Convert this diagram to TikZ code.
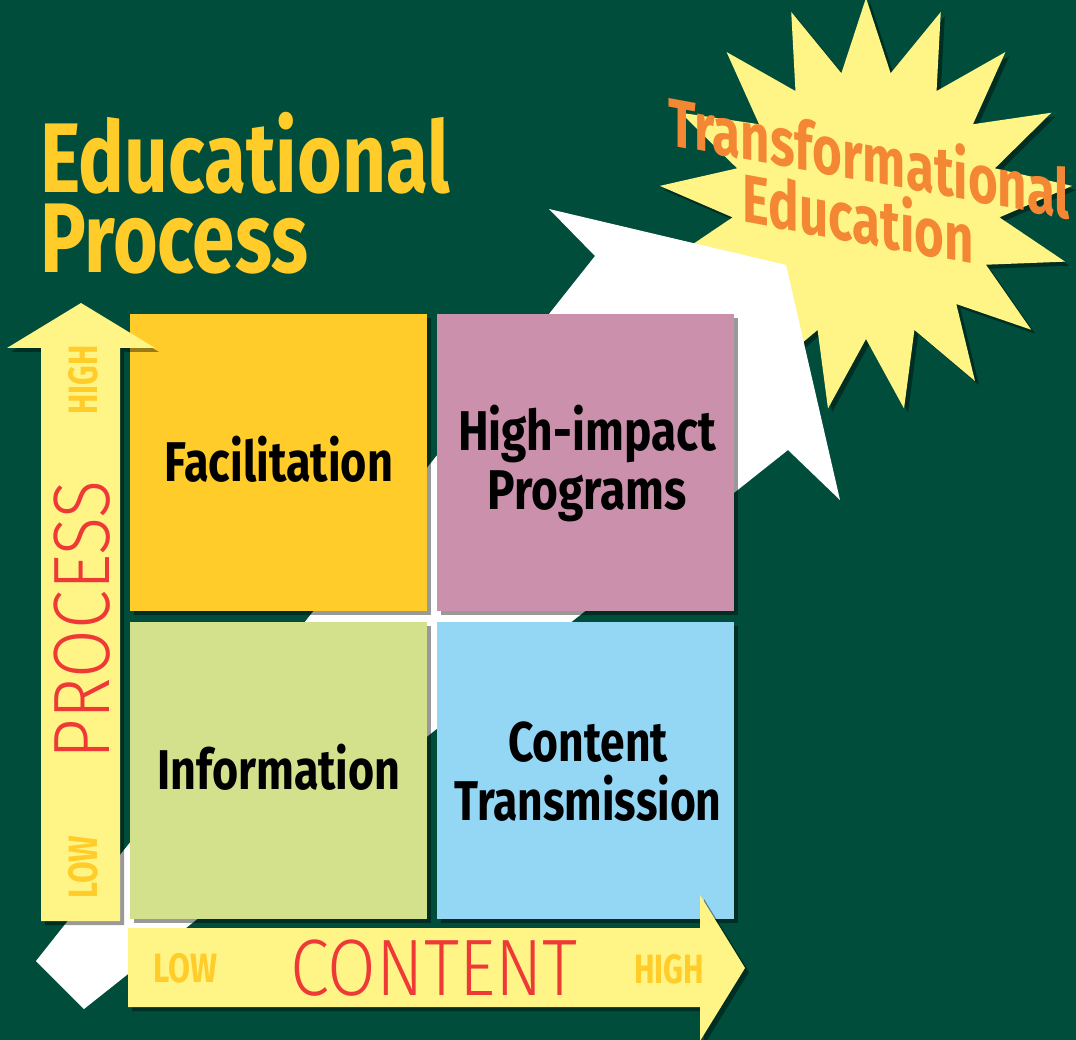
\documentclass[tikz,border=0pt]{standalone}
\usepackage{fontspec}
\setmainfont{Fira Sans}
\newfontfamily\lightfont{Fira Sans Light}
\usetikzlibrary{shadows}

\definecolor{bggreen}{RGB}{0,77,59}
\definecolor{goldyellow}{RGB}{255,204,41}
\definecolor{paleyellow}{RGB}{255,245,135}
\definecolor{impactpink}{RGB}{203,145,172}
\definecolor{infogreen}{RGB}{211,225,140}
\definecolor{transblue}{RGB}{147,215,245}
\definecolor{axisred}{RGB}{238,57,55}
\definecolor{burstorange}{RGB}{244,135,52}

% squeeze a text to a given width, keeping its height
\newcommand{\squeeze}[2]{\resizebox{#1}{\height}{#2}}
% lines stacked at the font's baselineskip, centred or flush left
\newcommand{\centred}[1]{\vtop{\halign{\hfil##\hfil\cr#1\cr}}}
\newcommand{\flushed}[1]{\vtop{\halign{##\hfil\cr#1\cr}}}

\tikzset{
  dropped/.style={drop shadow={shadow xshift=4pt, shadow yshift=-4pt, opacity=.4, fill=black}},
  quadbox/.style={inner sep=0pt, minimum width=297pt, minimum height=297pt, anchor=north west, dropped},
  quadtext/.style={inner sep=0pt, anchor=base, text=black, font=\bfseries\fontsize{56}{59}\selectfont},
  titleword/.style={inner sep=0pt, anchor=base west, text=goldyellow, font=\bfseries\fontsize{99}{79}\selectfont},
  axisword/.style={inner sep=0pt, text=axisred, font=\lightfont\fontsize{80}{80}\selectfont},
  axisend/.style={inner sep=0pt, text=goldyellow, font=\bfseries\fontsize{41}{41}\selectfont},
  burstword/.style={inner sep=0pt, anchor=base, yslant=-0.184, text=burstorange, font=\bfseries\fontsize{68}{63}\selectfont}
}

\begin{document}
\begin{tikzpicture}[x=1pt, y=-1pt]
    \useasboundingbox (0,0) rectangle (1076,1040);
    \fill[bggreen] (0,0) rectangle (1076,1040);

    % --- Burst (17 points) behind the big arrow ---
    \begin{scope}[shift={(866,205)}]
        \fill[paleyellow, dropped] (-90:207)
            \foreach \k in {0,...,16} { -- ({-90+(\k+0.5)*360/17}:134) -- ({-90+(\k+1)*360/17}:207) } -- cycle;
    \end{scope}

    % --- Big white arrow, tail at lower left ---
    \fill[white] (36,961) -- (595,256) -- (549,209) -- (786,265) -- (840,500) -- (788,450) -- (84,1009) -- cycle;

    % --- Quadrants ---
    \node[quadbox, fill=goldyellow] (facilbox) at (130,314) {};
    \node[quadbox, fill=impactpink] (impactbox) at (437,314) {};
    \node[quadbox, fill=infogreen] (infobox) at (130,622) {};
    \node[quadbox, fill=transblue] (transbox) at (437,622) {};

    % --- Axis arrows ---
    \fill[paleyellow, dropped] (41,921) -- (41,348) -- (7,348) -- (81,303) -- (155,348) -- (120,348) -- (120,921) -- cycle;
    \fill[paleyellow, dropped] (128,928) -- (700,928) -- (700,895) -- (745,968) -- (700,1041) -- (700,1007) -- (128,1007) -- cycle;

    % --- Title ---
    \node[titleword] (title) at (40,193) {\squeeze{410pt}{\flushed{Educational\cr Process}}};

    % --- Quadrant labels ---
    \node[quadtext] (faciltext) at (279,481) {\squeeze{228pt}{Facilitation}};
    \node[quadtext] (impacttext) at (587,450) {\squeeze{258pt}{\centred{High-impact\cr Programs}}};
    \node[quadtext] (infotext) at (279,789) {\squeeze{243pt}{Information}};
    \node[quadtext] (transtext) at (588,761) {\squeeze{267pt}{\centred{Content\cr Transmission}}};

    % --- Axis labels ---
    \node[axisword, rotate=90] (process) at (82,620) {\squeeze{279pt}{PROCESS}};
    \node[axisend, rotate=90] (prochigh) at (83,380) {\squeeze{69pt}{HIGH}};
    \node[axisend, rotate=90] (proclow) at (83,867) {\squeeze{63pt}{LOW}};
    \node[axisword] (content) at (434,968) {\squeeze{287pt}{CONTENT}};
    \node[axisend] (contlow) at (185,968) {\squeeze{64pt}{LOW}};
    \node[axisend] (conthigh) at (669,969) {\squeeze{70pt}{HIGH}};

    % --- Burst text ---
    \node[burstword] (burst) at (869,182) {\squeeze{402pt}{\centred{Transformational\cr Education\hspace*{28pt}}}};
\end{tikzpicture}
\end{document}
